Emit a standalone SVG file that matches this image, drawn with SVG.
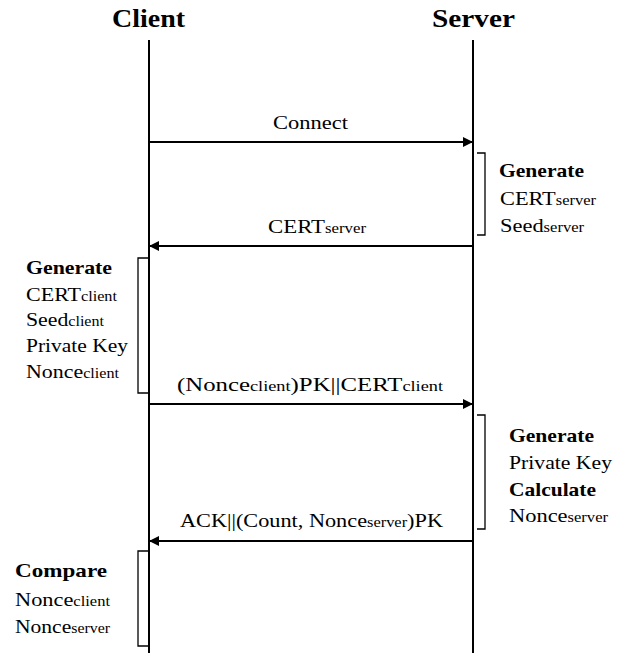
<svg xmlns="http://www.w3.org/2000/svg" width="624" height="653" viewBox="0 0 624 653">
  <style>
    text { font-family: "Liberation Serif", "Times New Roman", serif; fill: #000; }
    .title { font-size: 26px; font-weight: bold; }
    .t { font-size: 19px; }
    .b { font-size: 19px; font-weight: bold; }
    .sub { font-size: 14px; }
    .life { stroke: #000; stroke-width: 2; fill: none; }
    .msg { stroke: #000; stroke-width: 2; fill: none; }
    .brk { stroke: #000; stroke-width: 1.3; fill: none; }
  </style>
  <defs>
    <marker id="arrow" viewBox="0 0 10 10" refX="10" refY="5" markerWidth="5.5" markerHeight="5" markerUnits="strokeWidth" orient="auto">
      <path d="M0,0 L10,5 L0,10 Z" fill="#000"/>
    </marker>
  </defs>

  <!-- participants -->
  <g id="client">
    <text class="title" x="112" y="27" textLength="73" lengthAdjust="spacingAndGlyphs">Client</text>
    <line class="life" x1="149" y1="40" x2="149" y2="653"/>
  </g>
  <g id="server">
    <text class="title" x="432" y="27" textLength="83" lengthAdjust="spacingAndGlyphs">Server</text>
    <line class="life" x1="473" y1="40" x2="473" y2="653"/>
  </g>

  <!-- messages -->
  <g id="connectors">
    <line class="msg" x1="149" y1="142" x2="473" y2="142" marker-end="url(#arrow)"/>
    <text class="t" x="273" y="129" textLength="75" lengthAdjust="spacingAndGlyphs">Connect</text>

    <line class="msg" x1="473" y1="246" x2="149" y2="246" marker-end="url(#arrow)"/>
    <text class="t" x="268" y="233" textLength="98" lengthAdjust="spacingAndGlyphs">CERT<tspan class="sub">server</tspan></text>

    <line class="msg" x1="149" y1="404" x2="473" y2="404" marker-end="url(#arrow)"/>
    <text class="t" x="177" y="391" textLength="266" lengthAdjust="spacingAndGlyphs">(Nonce<tspan class="sub">client</tspan>)PK||CERT<tspan class="sub">client</tspan></text>

    <line class="msg" x1="473" y1="541" x2="149" y2="541" marker-end="url(#arrow)"/>
    <text class="t" x="180" y="527" textLength="263" lengthAdjust="spacingAndGlyphs">ACK||(Count, Nonce<tspan class="sub">server</tspan>)PK</text>
  </g>

  <!-- server: generate certificate and seed -->
  <g id="server-generate">
    <path class="brk" d="M477,153 H485 V235 H477"/>
    <text class="b" x="499" y="177" textLength="85" lengthAdjust="spacingAndGlyphs">Generate</text>
    <text class="t" x="500" y="205" textLength="96" lengthAdjust="spacingAndGlyphs">CERT<tspan class="sub">server</tspan></text>
    <text class="t" x="500" y="232" textLength="84" lengthAdjust="spacingAndGlyphs">Seed<tspan class="sub">server</tspan></text>
  </g>

  <!-- client: generate certificate, seed, key, nonce -->
  <g id="client-generate">
    <path class="brk" d="M148,258 H138 V393 H148"/>
    <text class="b" x="26" y="274" textLength="86" lengthAdjust="spacingAndGlyphs">Generate</text>
    <text class="t" x="26" y="301" textLength="91" lengthAdjust="spacingAndGlyphs">CERT<tspan class="sub">client</tspan></text>
    <text class="t" x="26" y="326" textLength="78" lengthAdjust="spacingAndGlyphs">Seed<tspan class="sub">client</tspan></text>
    <text class="t" x="26" y="352" textLength="102" lengthAdjust="spacingAndGlyphs">Private Key</text>
    <text class="t" x="26" y="378" textLength="93" lengthAdjust="spacingAndGlyphs">Nonce<tspan class="sub">client</tspan></text>
  </g>

  <!-- server: generate key, calculate nonce -->
  <g id="server-calculate">
    <path class="brk" d="M477,415 H485 V529 H477"/>
    <text class="b" x="509" y="442" textLength="85" lengthAdjust="spacingAndGlyphs">Generate</text>
    <text class="t" x="509" y="469" textLength="103" lengthAdjust="spacingAndGlyphs">Private Key</text>
    <text class="b" x="509" y="496" textLength="87" lengthAdjust="spacingAndGlyphs">Calculate</text>
    <text class="t" x="509" y="522" textLength="99" lengthAdjust="spacingAndGlyphs">Nonce<tspan class="sub">server</tspan></text>
  </g>

  <!-- client: compare nonces -->
  <g id="client-compare">
    <path class="brk" d="M148,551 H138 V646 H148"/>
    <text class="b" x="15" y="577" textLength="92" lengthAdjust="spacingAndGlyphs">Compare</text>
    <text class="t" x="15" y="606" textLength="95" lengthAdjust="spacingAndGlyphs">Nonce<tspan class="sub">client</tspan></text>
    <text class="t" x="15" y="633" textLength="95" lengthAdjust="spacingAndGlyphs">Nonce<tspan class="sub">server</tspan></text>
  </g>
</svg>
